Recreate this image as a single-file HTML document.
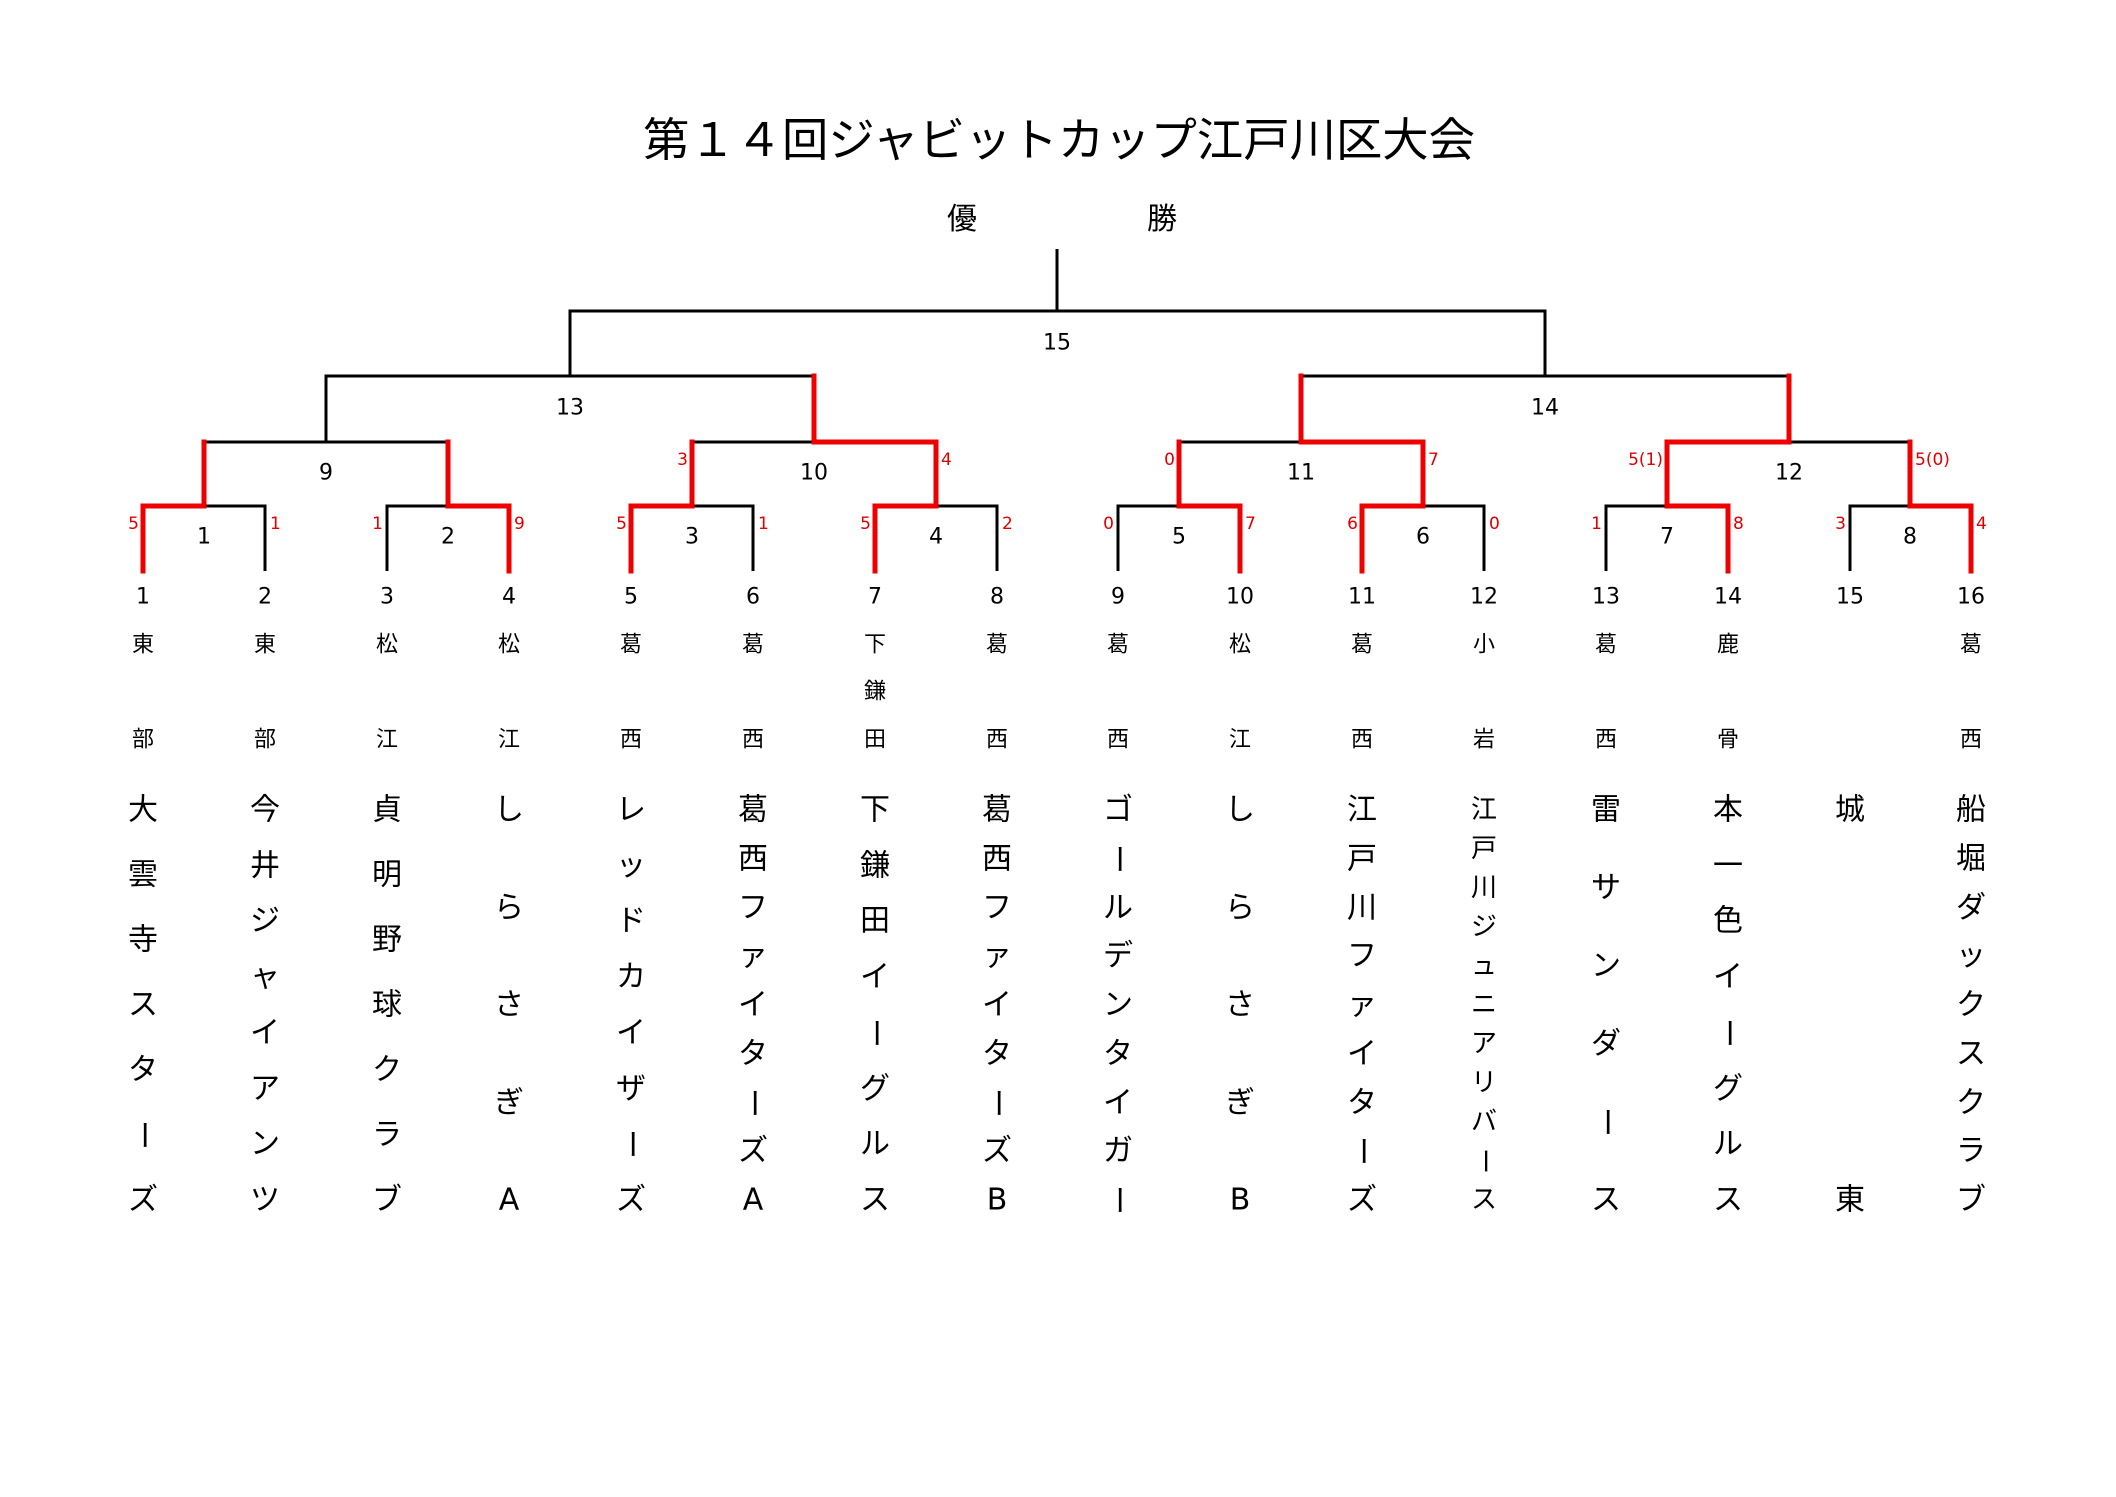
<!DOCTYPE html>
<html><head><meta charset="utf-8">
<style>
html,body{margin:0;padding:0;background:#fff;}
svg{display:block;}
text{font-family:"DejaVu Sans","Noto Sans CJK JP",sans-serif;}
.j{font-family:"Noto Sans CJK JP","DejaVu Sans",sans-serif;}
.n{font-size:22px;text-anchor:middle;dominant-baseline:central;fill:#000;}
.s{font-size:17px;dominant-baseline:central;fill:#d00;}
.p{font-size:22px;text-anchor:middle;dominant-baseline:central;fill:#000;}
.t{font-size:30px;text-anchor:middle;dominant-baseline:central;fill:#000;}
</style></head>
<body>
<svg width="2116" height="1497" viewBox="0 0 2116 1497" xmlns="http://www.w3.org/2000/svg">
<text class="j" x="643" y="137" font-size="46" dominant-baseline="central" textLength="832" lengthAdjust="spacingAndGlyphs">第１４回ジャビットカップ江戸川区大会</text>
<text class="j t" x="962" y="216">優</text>
<text class="j t" x="1162" y="216">勝</text>

<g stroke="#000" stroke-width="3" fill="none">
<path d="M1057 249V311"/>
<path d="M570 376V311H1545V376"/>
<path d="M326 442V376H814V442"/>
<path d="M1301 442V376H1789V442"/>
<path d="M204 506V442H448V506"/>
<path d="M692 506V442H936V506"/>
<path d="M1179 506V442H1423V506"/>
<path d="M1667 506V442H1910V506"/>
<path d="M143 571V506H265V571"/>
<path d="M387 571V506H509V571"/>
<path d="M631 571V506H753V571"/>
<path d="M875 571V506H997V571"/>
<path d="M1118 571V506H1240V571"/>
<path d="M1362 571V506H1484V571"/>
<path d="M1606 571V506H1728V571"/>
<path d="M1850 571V506H1971V571"/>
</g>
<g stroke="#e00" stroke-width="5" fill="none" stroke-linecap="square">
<path d="M143 571V506H204V442"/>
<path d="M509 571V506H448V442"/>
<path d="M631 571V506H692V442"/>
<path d="M875 571V506H936V442H814V376"/>
<path d="M1240 571V506H1179V442"/>
<path d="M1362 571V506H1423V442H1301V376"/>
<path d="M1728 571V506H1667V442H1789V376"/>
<path d="M1971 571V506H1910V442"/>
</g>

<g class="n">
<text x="1057" y="343">15</text>
<text x="570" y="408">13</text>
<text x="1545" y="408">14</text>
<text x="326" y="473">9</text>
<text x="814" y="473">10</text>
<text x="1301" y="473">11</text>
<text x="1789" y="473">12</text>
<text x="204" y="537">1</text>
<text x="448" y="537">2</text>
<text x="692" y="537">3</text>
<text x="936" y="537">4</text>
<text x="1179" y="537">5</text>
<text x="1423" y="537">6</text>
<text x="1667" y="537">7</text>
<text x="1910" y="537">8</text>
</g>

<g class="s">
<text x="139" y="524" text-anchor="end">5</text>
<text x="270" y="524">1</text>
<text x="383" y="524" text-anchor="end">1</text>
<text x="514" y="524">9</text>
<text x="627" y="524" text-anchor="end">5</text>
<text x="758" y="524">1</text>
<text x="871" y="524" text-anchor="end">5</text>
<text x="1002" y="524">2</text>
<text x="1114" y="524" text-anchor="end">0</text>
<text x="1245" y="524">7</text>
<text x="1358" y="524" text-anchor="end">6</text>
<text x="1489" y="524">0</text>
<text x="1602" y="524" text-anchor="end">1</text>
<text x="1733" y="524">8</text>
<text x="1846" y="524" text-anchor="end">3</text>
<text x="1976" y="524">4</text>
<text x="688" y="460" text-anchor="end">3</text>
<text x="941" y="460">4</text>
<text x="1175" y="460" text-anchor="end">0</text>
<text x="1428" y="460">7</text>
<text x="1663" y="460" text-anchor="end">5(1)</text>
<text x="1915" y="460">5(0)</text>
</g>

<g class="n">
<text x="143" y="597">1</text><text x="265" y="597">2</text><text x="387" y="597">3</text><text x="509" y="597">4</text>
<text x="631" y="597">5</text><text x="753" y="597">6</text><text x="875" y="597">7</text><text x="997" y="597">8</text>
<text x="1118" y="597">9</text><text x="1240" y="597">10</text><text x="1362" y="597">11</text><text x="1484" y="597">12</text>
<text x="1606" y="597">13</text><text x="1728" y="597">14</text><text x="1850" y="597">15</text><text x="1971" y="597">16</text>
</g>

<g class="j p">
<text x="143 143" y="645 740">東部</text>
<text x="265 265" y="645 740">東部</text>
<text x="387 387" y="645 740">松江</text>
<text x="509 509" y="645 740">松江</text>
<text x="631 631" y="645 740">葛西</text>
<text x="753 753" y="645 740">葛西</text>
<text x="875 875 875" y="645 692 740">下鎌田</text>
<text x="997 997" y="645 740">葛西</text>
<text x="1118 1118" y="645 740">葛西</text>
<text x="1240 1240" y="645 740">松江</text>
<text x="1362 1362" y="645 740">葛西</text>
<text x="1484 1484" y="645 740">小岩</text>
<text x="1606 1606" y="645 740">葛西</text>
<text x="1728 1728" y="645 740">鹿骨</text>
<text x="1971 1971" y="645 740">葛西</text>
</g>

<g class="j t">
<!-- 1 -->
<text x="143 143 143 143 143" y="810 875 940 1005 1070">大雲寺スタ</text>
<text x="143" y="1135" transform="rotate(90 143 1135)">ー</text>
<text x="143" y="1200">ズ</text>
<!-- 2 -->
<text x="265 265 265 265 265 265 265 265" y="810 866 921 977 1033 1089 1144 1200">今井ジャイアンツ</text>
<!-- 3 -->
<text x="387 387 387 387 387 387 387" y="810 875 940 1005 1070 1135 1200">貞明野球クラブ</text>
<!-- 4 -->
<text x="509 509 509 509 509" y="810 908 1005 1103 1200">しらさぎA</text>
<!-- 5 -->
<text x="631 631 631 631 631 631" y="810 866 921 977 1033 1089">レッドカイザ</text>
<text x="631" y="1144" transform="rotate(90 631 1144)">ー</text>
<text x="631" y="1200">ズ</text>
<!-- 6 -->
<text x="753 753 753 753 753 753" y="810 859 908 956 1005 1054">葛西ファイタ</text>
<text x="753" y="1103" transform="rotate(90 753 1103)">ー</text>
<text x="753 753" y="1151 1200">ズA</text>
<!-- 7 -->
<text x="875 875 875 875" y="810 866 921 977">下鎌田イ</text>
<text x="875" y="1033" transform="rotate(90 875 1033)">ー</text>
<text x="875 875 875" y="1089 1144 1200">グルス</text>
<!-- 8 -->
<text x="997 997 997 997 997 997" y="810 859 908 956 1005 1054">葛西ファイタ</text>
<text x="997" y="1103" transform="rotate(90 997 1103)">ー</text>
<text x="997 997" y="1151 1200">ズB</text>
<!-- 9 -->
<text x="1118" y="810">ゴ</text>
<text x="1118" y="859" transform="rotate(90 1118 859)">ー</text>
<text x="1118 1118 1118 1118 1118 1118" y="908 956 1005 1054 1103 1151">ルデンタイガ</text>
<text x="1118" y="1200" transform="rotate(90 1118 1200)">ー</text>
<!-- 10 -->
<text x="1240 1240 1240 1240 1240" y="810 908 1005 1103 1200">しらさぎB</text>
<!-- 11 -->
<text x="1362 1362 1362 1362 1362 1362 1362" y="810 859 908 956 1005 1054 1103">江戸川ファイタ</text>
<text x="1362" y="1151" transform="rotate(90 1362 1151)">ー</text>
<text x="1362" y="1200">ズ</text>
<!-- 12 -->
<g font-size="26">
<text x="1484 1484 1484 1484 1484 1484 1484 1484 1484" y="810 849 888 927 966 1005 1044 1083 1122">江戸川ジュニアリバ</text>
<text x="1484" y="1161" transform="rotate(90 1484 1161)">ー</text>
<text x="1484" y="1200">ス</text>
</g>
<!-- 13 -->
<text x="1606 1606 1606 1606" y="810 888 966 1044">雷サンダ</text>
<text x="1606" y="1122" transform="rotate(90 1606 1122)">ー</text>
<text x="1606" y="1200">ス</text>
<!-- 14 -->
<text x="1728 1728 1728 1728" y="810 866 921 977">本一色イ</text>
<text x="1728" y="1033" transform="rotate(90 1728 1033)">ー</text>
<text x="1728 1728 1728" y="1089 1144 1200">グルス</text>
<!-- 15 -->
<text x="1850 1850" y="810 1200">城東</text>
<!-- 16 -->
<text x="1971 1971 1971 1971 1971 1971 1971 1971 1971" y="810 859 908 956 1005 1054 1103 1151 1200">船堀ダックスクラブ</text>
</g>
</svg>
</body></html>
